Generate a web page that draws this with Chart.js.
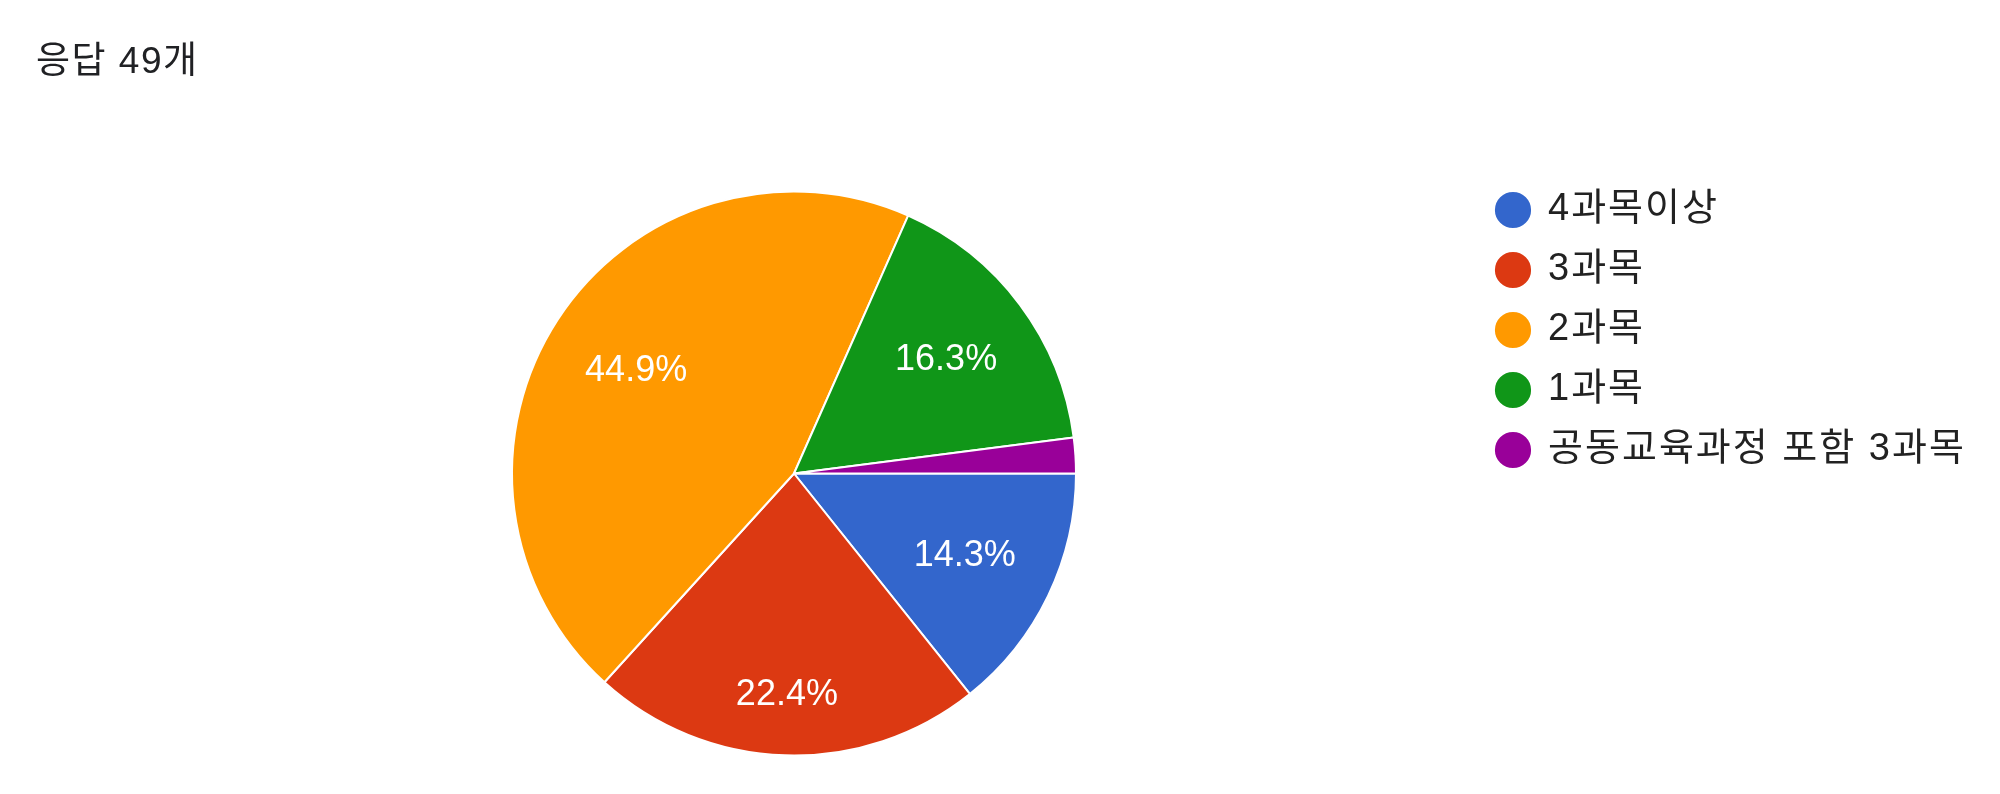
<!DOCTYPE html>
<html>
<head>
<meta charset="utf-8">
<script src="https://cdn.jsdelivr.net/npm/chart.js@4.4.1/dist/chart.umd.min.js"></script>
<style>
  html, body { margin: 0; padding: 0; background: #ffffff; }
  canvas { display: block; }
</style>
</head>
<body>
<canvas id="c" width="2000" height="794"></canvas>
<script>
// ---- data ----
const titleText = '응답 49개';
const categories = ['4과목이상', '3과목', '2과목', '1과목', '공동교육과정 포함 3과목'];
const counts = [7, 11, 22, 8, 1];
const colors = ['#3366cc', '#dc3912', '#ff9900', '#109618', '#990099'];

// ---- style ----
const FONT = "Arial, 'Liberation Sans', 'Noto Sans CJK KR', sans-serif";
const LFS = 38;          // legend font size
const LSP = '2px';       // legend letter spacing
const PFS = 36;          // slice label font size
const TFS = 37;          // title font size
const legendPad = 22, boxW = 32, boxH = 27;
const legendLeft = 1475;

// measure longest legend label to place legend box
const mctx = document.createElement('canvas').getContext('2d');
mctx.font = LFS + 'px ' + FONT;
mctx.letterSpacing = LSP;
let maxTW = 0;
categories.forEach(t => { maxTW = Math.max(maxTW, mctx.measureText(t).width); });
const legendWidth = legendPad + (boxW + LFS / 2 + maxTW) + 10;
const padRight = 2000 - legendLeft - legendWidth;

const spacingPlugin = {
  id: 'spacing',
  beforeInit(chart) { chart.ctx.letterSpacing = LSP; },
  beforeUpdate(chart) { chart.ctx.letterSpacing = LSP; },
  beforeDraw(chart) { chart.ctx.letterSpacing = LSP; }
};

const titlePlugin = {
  id: 'topTitle',
  afterDraw(chart) {
    const ctx = chart.ctx;
    ctx.save();
    ctx.letterSpacing = '1.5px';
    ctx.font = TFS + 'px ' + FONT;
    ctx.fillStyle = '#202124';
    ctx.textAlign = 'left';
    ctx.textBaseline = 'alphabetic';
    ctx.fillText(titleText, 36, 73);
    ctx.restore();
  }
};

const sliceLabels = {
  id: 'sliceLabels',
  afterDatasetsDraw(chart, args, opts) {
    const ctx = chart.ctx;
    const meta = chart.getDatasetMeta(0);
    const data = chart.data.datasets[0].data;
    const total = data.reduce((a, b) => a + b, 0);
    ctx.save();
    ctx.letterSpacing = '0px';
    ctx.font = PFS + 'px ' + FONT;
    ctx.fillStyle = '#ffffff';
    ctx.textAlign = 'center';
    ctx.textBaseline = 'middle';
    meta.data.forEach((arc, i) => {
      const pct = data[i] / total * 100;
      if (pct < 5) return;
      const p = arc.getProps(['x', 'y', 'startAngle', 'endAngle', 'outerRadius'], true);
      const mid = (p.startAngle + p.endAngle) / 2;
      const f = opts.radiusFactor[i];
      const lx = p.x + Math.cos(mid) * p.outerRadius * f;
      const ly = p.y + Math.sin(mid) * p.outerRadius * f;
      ctx.fillText(pct.toFixed(1) + '%', lx, ly);
    });
    ctx.restore();
  }
};

new Chart(document.getElementById('c'), {
  type: 'pie',
  data: {
    labels: categories,
    datasets: [{
      data: counts,
      backgroundColor: colors,
      borderColor: '#ffffff',
      borderWidth: 2,
      hoverOffset: 0
    }]
  },
  options: {
    responsive: false,
    animation: false,
    rotation: 90,
    radius: 282,
    layout: { padding: { left: 2 * 794 - legendLeft, right: padRight, top: 169, bottom: 16 } },
    plugins: {
      tooltip: { enabled: false },
      title: { display: false },
      legend: {
        position: 'right',
        align: 'start',
        labels: {
          usePointStyle: true,
          pointStyle: 'circle',
          boxWidth: boxW,
          boxHeight: boxH,
          padding: legendPad,
          color: '#222222',
          font: { family: FONT, size: LFS }
        }
      },
      sliceLabels: { radiusFactor: [0.672, 0.785, 0.668, 0.673, 0.7] }
    }
  },
  plugins: [spacingPlugin, sliceLabels, titlePlugin]
});
</script>
</body>
</html>
